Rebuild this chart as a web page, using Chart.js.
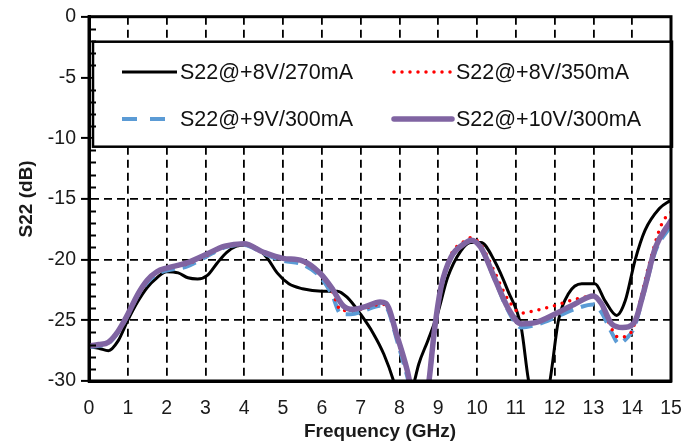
<!DOCTYPE html>
<html>
<head>
<meta charset="utf-8">
<script src="https://cdn.jsdelivr.net/npm/chart.js@4.4.1/dist/chart.umd.min.js"></script>
<style>
  html, body { margin: 0; padding: 0; background: #fff; }
  #wrap { width: 700px; height: 443px; position: relative; }
</style>
</head>
<body>
<div id="wrap"><canvas id="c" width="700" height="443"></canvas></div>
<script>
// ---- data ----
const seriesLabels = ['S22@+8V/270mA', 'S22@+8V/350mA', 'S22@+9V/300mA', 'S22@+10V/300mA'];
const yTicks = [0, -5, -10, -15, -20, -25, -30];
const xTicks = [0,1,2,3,4,5,6,7,8,9,10,11,12,13,14,15];

const freq8V270 = [0, 0.25, 0.5, 0.75, 1, 1.25, 1.5, 1.75, 2, 2.3, 2.55, 2.8, 3.05, 3.3, 3.55, 3.8, 4.05, 4.35, 4.6, 4.85, 5.15, 5.5, 6.0, 6.4, 6.65, 7.0, 7.33, 7.6, 7.85, 8.1, 8.35, 8.5, 8.73, 8.98, 9.24, 9.58, 9.84, 10.1, 10.45, 10.8, 11.14, 11.32, 11.6, 11.88, 12.1, 12.36, 12.7, 13.04, 13.3, 13.6, 13.82, 14.07, 14.33, 14.7, 15];
const s22_8V270 = [-27.2, -27.3, -27.5, -26.7, -25.0, -23.5, -22.3, -21.5, -21.0, -21.1, -21.5, -21.6, -21.3, -20.3, -19.4, -18.9, -18.8, -19.1, -19.9, -21.1, -22.0, -22.4, -22.6, -22.6, -23.1, -24.5, -26.1, -27.8, -30.0, -33.0, -30.5, -28.6, -26.7, -24.5, -21.5, -19.3, -18.6, -18.6, -20.1, -22.6, -25.6, -29.8, -34.0, -30.0, -25.0, -22.8, -22.0, -22.0, -23.4, -24.6, -23.4, -20.1, -17.6, -15.8, -15.1];

const freq8V350 = [0, 0.25, 0.5, 0.75, 1, 1.25, 1.5, 1.75, 2, 2.5, 3, 3.5, 4, 4.5, 5, 5.5, 5.95, 6.25, 6.5, 6.75, 7.1, 7.5, 7.65, 7.95, 8.2, 8.4, 8.6, 8.75, 8.9, 9.07, 9.33, 9.67, 9.85, 10.1, 10.45, 10.8, 11.14, 11.5, 12, 12.5, 13.0, 13.2, 13.47, 13.65, 13.97, 14.2, 14.42, 14.77, 15];
const s22_8V350 = [-27.1, -27.0, -26.8, -25.9, -24.5, -22.9, -21.7, -21.0, -20.7, -20.4, -19.7, -18.9, -18.7, -19.4, -19.9, -20.2, -21.2, -22.5, -24.2, -24.2, -24.0, -23.7, -23.7, -26.6, -29.3, -32.0, -32.5, -30.4, -25.8, -22.2, -19.6, -18.5, -18.2, -18.8, -21.0, -23.3, -24.4, -24.2, -23.8, -23.3, -23.0, -23.6, -25.7, -26.4, -26.0, -23.5, -20.6, -17.0, -16.1];

const freq9V300 = [0, 0.25, 0.5, 0.75, 1, 1.25, 1.5, 1.75, 2, 2.5, 3, 3.5, 4, 4.5, 5, 5.5, 5.95, 6.25, 6.5, 6.75, 7.1, 7.5, 7.65, 7.95, 8.2, 8.4, 8.6, 8.75, 8.9, 9.07, 9.33, 9.67, 9.85, 10.1, 10.45, 10.8, 11.14, 11.5, 12, 12.5, 13.0, 13.2, 13.47, 13.65, 13.85, 14.05, 14.3, 14.6, 15];
const s22_9V300 = [-27.2, -27.1, -26.9, -26.0, -24.6, -23.0, -21.9, -21.2, -20.9, -20.6, -19.8, -19.0, -18.8, -19.5, -20.1, -20.4, -21.4, -22.8, -24.5, -24.5, -24.2, -23.8, -23.9, -26.8, -29.6, -32.0, -32.5, -30.5, -26.0, -22.4, -19.9, -18.7, -18.4, -19.1, -21.6, -24.2, -25.6, -25.4, -24.8, -24.1, -23.7, -24.3, -26.0, -26.9, -26.5, -25.6, -22.8, -19.3, -17.2];

const freq10V300 = [0, 0.25, 0.5, 0.75, 1, 1.25, 1.5, 1.75, 2, 2.5, 3, 3.5, 4, 4.5, 5, 5.5, 5.95, 6.25, 6.55, 6.8, 7.1, 7.5, 7.65, 7.95, 8.2, 8.4, 8.6, 8.75, 8.9, 9.07, 9.33, 9.67, 9.85, 10.1, 10.45, 10.8, 11.14, 11.5, 12, 12.5, 13.0, 13.2, 13.47, 13.75, 14.05, 14.3, 14.6, 15];
const s22_10V300 = [-27.1, -27.0, -26.8, -25.9, -24.5, -22.9, -21.7, -21.0, -20.7, -20.3, -19.6, -18.9, -18.7, -19.4, -19.9, -20.1, -21.1, -22.3, -23.8, -24.1, -23.9, -23.5, -23.6, -26.4, -29.1, -32.0, -32.5, -30.3, -25.9, -22.3, -19.8, -18.7, -18.4, -19.0, -21.5, -24.0, -25.3, -25.2, -24.5, -23.7, -23.0, -23.6, -25.3, -25.6, -25.2, -22.6, -19.0, -16.8];

// ---- helpers ----
const pts = (xs, ys) => xs.map((x, i) => ({ x: x, y: ys[i] }));
const FONT = "'Liberation Sans', Arial, Helvetica, sans-serif";

const frameAndMinor = {
  id: 'frameAndMinor',
  afterDraw(chart) {
    const { ctx, chartArea: a, scales } = chart;
    ctx.save();
    ctx.strokeStyle = '#000';
    ctx.lineWidth = 2;
    for (let v = -29; v < 0; v++) {
      if (v % 5 === 0) continue;
      const y = Math.round(scales.y.getPixelForValue(v)) + 0.5;
      ctx.beginPath(); ctx.moveTo(a.left, y); ctx.lineTo(a.left + 7, y); ctx.stroke();
    }
    ctx.lineWidth = 3;
    ctx.strokeRect(a.left, a.top, a.right - a.left, a.bottom - a.top);
    ctx.restore();
  }
};

const boxLegend = {
  id: 'boxLegend',
  afterDatasetsDraw(chart) {
    const ctx = chart.ctx;
    const a = chart.chartArea;
    const bx = a.left + 4, by = a.top + 25, bw = a.right - a.left - 3, bh = 105;
    ctx.save();
    ctx.fillStyle = '#fff';
    ctx.fillRect(bx, by, bw, bh);
    ctx.lineWidth = 2.5;
    ctx.strokeStyle = '#000';
    ctx.strokeRect(bx, by, bw, bh);
    const slots = [
      [122, 177, 180, 72],
      [394, 452, 456, 72],
      [122, 177, 180, 119],
      [394, 452, 456, 119]
    ];
    chart.data.datasets.forEach((ds, i) => {
      const [x0, x1, tx, ty] = slots[i];
      ctx.save();
      ctx.strokeStyle = ds.borderColor;
      ctx.lineWidth = ds.borderWidth;
      ctx.lineCap = ds.borderCapStyle || 'butt';
      ctx.setLineDash(ds.legendDash || ds.borderDash || []);
      ctx.beginPath(); ctx.moveTo(x0, ty); ctx.lineTo(x1, ty); ctx.stroke();
      ctx.restore();
      ctx.fillStyle = '#111';
      ctx.font = '21.5px ' + FONT;
      ctx.textBaseline = 'middle';
      ctx.textAlign = 'left';
      ctx.fillText(ds.label, tx, ty + 1);
    });
    ctx.restore();
  }
};

const ctx = document.getElementById('c').getContext('2d');
new Chart(ctx, {
  type: 'line',
  data: {
    datasets: [
      { label: seriesLabels[0], data: pts(freq8V270, s22_8V270), borderColor: '#000000', borderWidth: 3, order: 3 },
      { label: seriesLabels[1], data: pts(freq8V350, s22_8V350), borderColor: '#ff0000', borderWidth: 3.5, borderDash: [0, 8], borderCapStyle: 'round', order: 1 },
      { label: seriesLabels[2], data: pts(freq9V300, s22_9V300), borderColor: '#5b9bd5', borderWidth: 4, borderDash: [14, 8], legendDash: [15, 13], order: 2 },
      { label: seriesLabels[3], data: pts(freq10V300, s22_10V300), borderColor: '#8064a2', borderWidth: 5.5, borderCapStyle: 'round', order: 0 }
    ].map(d => Object.assign({ pointRadius: 0, fill: false, cubicInterpolationMode: 'monotone', clip: 0 }, d))
  },
  options: {
    responsive: false,
    animation: false,
    events: [],
    layout: { padding: { top: 16, right: 29, left: 0, bottom: 0 } },
    plugins: { legend: { display: false }, tooltip: { enabled: false }, title: { display: false } },
    scales: {
      x: {
        type: 'linear', min: 0, max: 15,
        afterFit: s => { s.height = 62; },
        afterBuildTicks: s => { s.ticks = xTicks.map(v => ({ value: v })); },
        ticks: { color: '#1a1a1a', font: { family: FONT, size: 19.5 }, padding: 16, maxRotation: 0 },
        grid: { color: '#000', lineWidth: 1.8, drawTicks: false },
        border: { display: true, color: '#000', width: 3, dash: [8, 5] },
        title: { display: true, text: 'Frequency (GHz)', color: '#1a1a1a', font: { family: FONT, size: 19, weight: 'bold' }, padding: { top: 0, bottom: 0 } }
      },
      y: {
        type: 'linear', min: -30, max: 0,
        afterFit: s => { s.width = 89; },
        afterBuildTicks: s => { s.ticks = yTicks.map(v => ({ value: v })); },
        ticks: { color: '#1a1a1a', font: { family: FONT, size: 19.5 }, padding: 5 },
        grid: { color: '#000', lineWidth: 1.8, drawTicks: true, tickLength: 8, tickColor: '#000', tickWidth: 2, tickBorderDash: [] },
        border: { display: true, color: '#000', width: 3, dash: [8, 5] },
        title: { display: true, text: 'S22 (dB)', color: '#1a1a1a', font: { family: FONT, size: 19, weight: 'bold' }, padding: { top: 15, bottom: 0 } }
      }
    }
  },
  plugins: [boxLegend, frameAndMinor]
});
</script>
</body>
</html>
